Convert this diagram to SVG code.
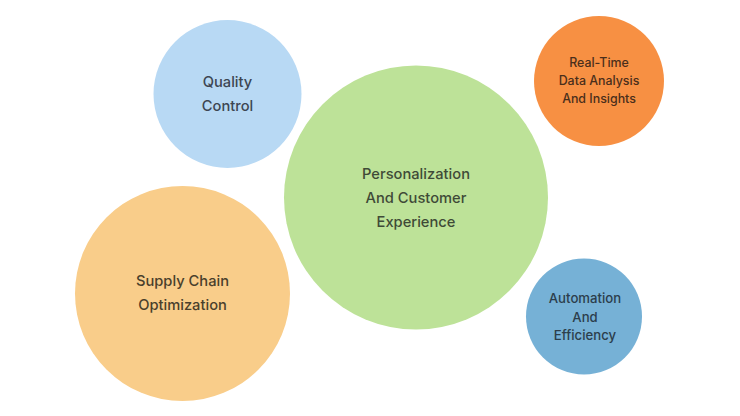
<svg xmlns="http://www.w3.org/2000/svg" width="740" height="416" viewBox="0 0 740 416">
<style>
text{font-family:Inter,"Liberation Sans",sans-serif;font-weight:500;text-anchor:middle}
.l{font-size:14.7px}
.s{font-size:12.4px}
.a{font-size:13.2px}
</style>
<rect width="740" height="416" fill="#ffffff"/>
<g id="quality-control">
<circle cx="227.5" cy="94" r="74" fill="#b8d9f4"/>
<text class="l" fill="#3d4652"><tspan x="227.5" y="87">Quality</tspan><tspan x="227.5" y="111">Control</tspan></text>
</g>
<g id="personalization">
<circle cx="416" cy="197.5" r="132" fill="#bde298"/>
<text class="l" fill="#3f4a37"><tspan x="416" y="179">Personalization</tspan><tspan x="416" y="203">And Customer</tspan><tspan x="416" y="227">Experience</tspan></text>
</g>
<g id="real-time">
<circle cx="599" cy="81" r="65" fill="#f79043"/>
<text class="s" fill="#4a2e1b"><tspan x="599" y="67">Real-Time</tspan><tspan x="599" y="85">Data Analysis</tspan><tspan x="599" y="103">And Insights</tspan></text>
</g>
<g id="supply-chain">
<circle cx="182.5" cy="293.5" r="107.5" fill="#f9cd8a"/>
<text class="l" fill="#4a3f2c"><tspan x="182.5" y="286">Supply Chain</tspan><tspan x="182.5" y="310">Optimization</tspan></text>
</g>
<g id="automation">
<circle cx="584" cy="316.5" r="58" fill="#76b1d6"/>
<text class="a" fill="#2c3e4c"><tspan x="585" y="303">Automation</tspan><tspan x="585" y="321.5">And</tspan><tspan x="585" y="340">Efficiency</tspan></text>
</g>
<g id="connectors"/>
</svg>
